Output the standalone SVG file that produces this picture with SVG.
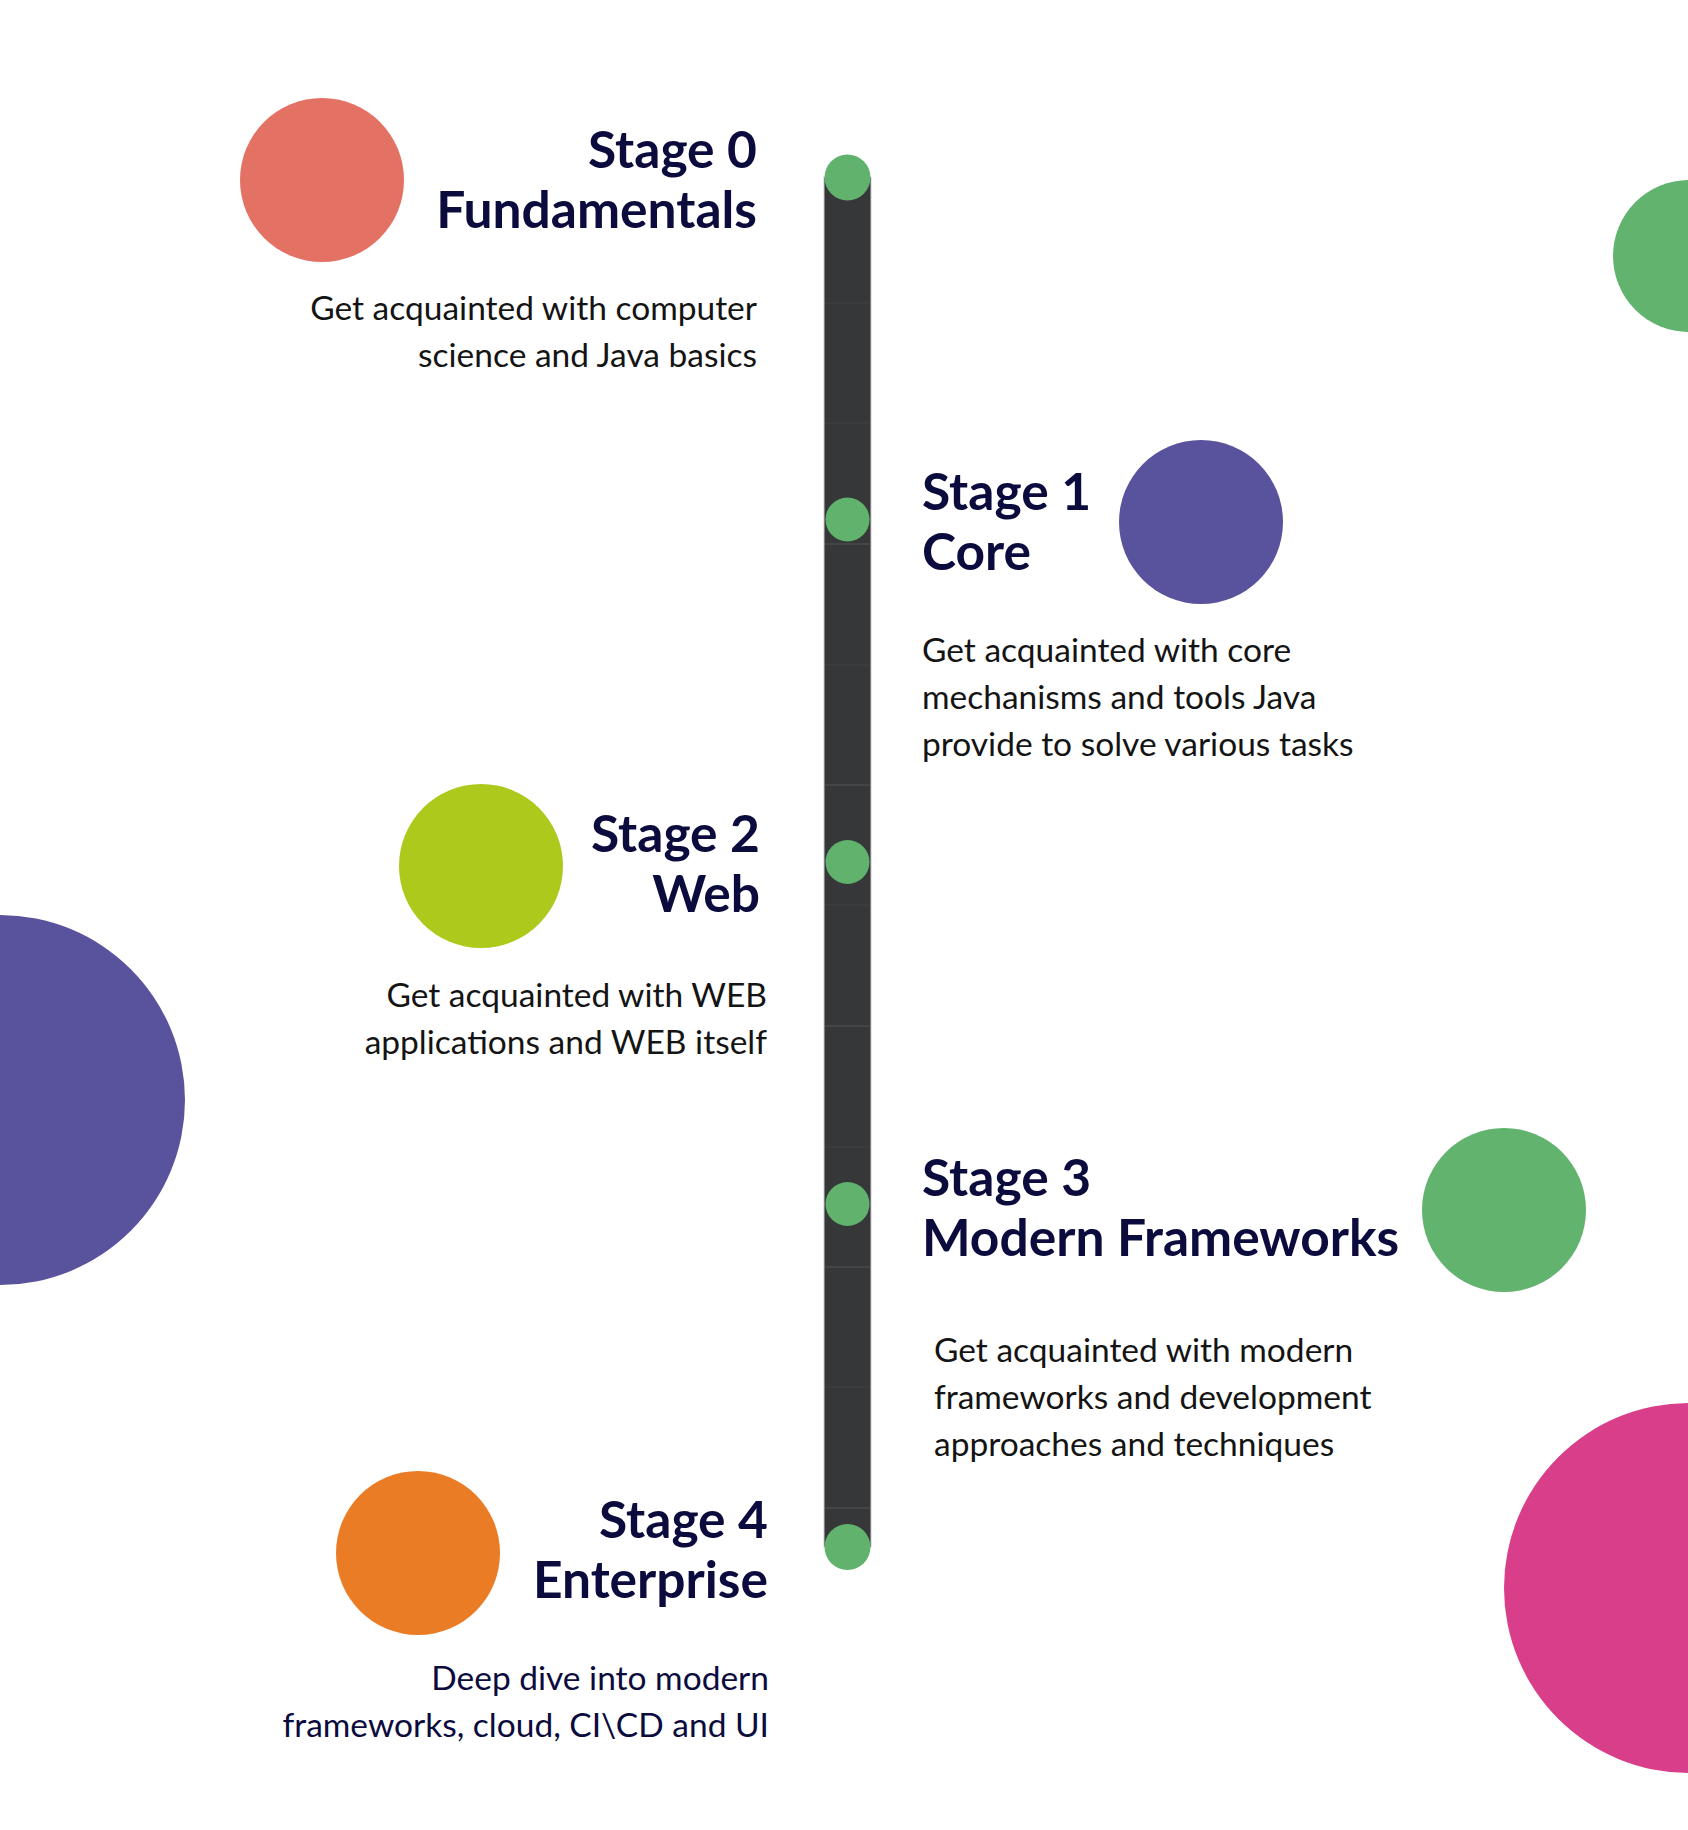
<svg xmlns="http://www.w3.org/2000/svg" width="1688" height="1830" viewBox="0 0 1688 1830">
  <style>
    .title { font-family: Lato, "Liberation Sans", sans-serif; font-weight: 700; font-size: 51.5px; fill: #0b0b3d; }
    .desc { font-family: Lato, "Liberation Sans", sans-serif; font-weight: 400; font-size: 33.5px; fill: #141414; }
    .desc.navy { fill: #0b0b3d; }
    .end { text-anchor: end; }
    .dot { fill: #60b26c; }
    .seam { stroke: #4a4b4e; stroke-width: 1.5; }
    .seam.faint { stroke: #3e3f42; }
  </style>

  <rect width="1688" height="1830" fill="#ffffff"/>

  <!-- decorative background discs -->
  <g id="decor">
    <circle cx="0" cy="1100" r="185" fill="#59529d"/>
    <circle cx="1689" cy="256" r="76" fill="#61b36e"/>
    <circle cx="1689" cy="1588" r="185" fill="#d83e8a"/>
  </g>

  <!-- vertical timeline track with stage markers -->
  <g id="connectors">
    <rect x="824" y="177" width="47" height="1370" fill="#363739" stroke="#c9c9c9" stroke-width="1"/>
    <g class="seam faint">
      <line x1="825" y1="303" x2="870" y2="303"/>
      <line x1="825" y1="423" x2="870" y2="423"/>
      <line x1="825" y1="665" x2="870" y2="665"/>
      <line x1="825" y1="905" x2="870" y2="905"/>
      <line x1="825" y1="1147" x2="870" y2="1147"/>
      <line x1="825" y1="1387" x2="870" y2="1387"/>
    </g>
    <g class="seam">
      <line x1="825" y1="544" x2="870" y2="544"/>
      <line x1="825" y1="785" x2="870" y2="785"/>
      <line x1="825" y1="1026" x2="870" y2="1026"/>
      <line x1="825" y1="1267" x2="870" y2="1267"/>
      <line x1="825" y1="1508" x2="870" y2="1508"/>
    </g>
    <circle class="dot" cx="847.5" cy="177.5" r="23"/>
    <circle class="dot" cx="847.5" cy="519.5" r="22"/>
    <circle class="dot" cx="847.5" cy="862" r="22"/>
    <circle class="dot" cx="847.5" cy="1204" r="22"/>
    <circle class="dot" cx="847.5" cy="1547" r="23"/>
  </g>

  <!-- Stage 0 -->
  <g id="stage0">
    <circle cx="322" cy="180" r="82" fill="#e47264"/>
    <text class="title end" x="757" y="168">Stage 0</text>
    <text class="title end" x="757" y="228">Fundamentals</text>
    <text class="desc end" x="757" y="320">Get acquainted with computer</text>
    <text class="desc end" x="757" y="367">science and Java basics</text>
  </g>

  <!-- Stage 1 -->
  <g id="stage1">
    <circle cx="1201" cy="522" r="82" fill="#59529d"/>
    <text class="title" x="922" y="510">Stage 1</text>
    <text class="title" x="922" y="570">Core</text>
    <text class="desc" x="922" y="662">Get acquainted with core</text>
    <text class="desc" x="922" y="709">mechanisms and tools Java</text>
    <text class="desc" x="922" y="756">provide to solve various tasks</text>
  </g>

  <!-- Stage 2 -->
  <g id="stage2">
    <circle cx="481" cy="866" r="82" fill="#adc91c"/>
    <text class="title end" x="760" y="852">Stage 2</text>
    <text class="title end" x="760" y="912">Web</text>
    <text class="desc end" x="767" y="1007">Get acquainted with WEB</text>
    <text class="desc end" x="767" y="1054">applications and WEB itself</text>
  </g>

  <!-- Stage 3 -->
  <g id="stage3">
    <circle cx="1504" cy="1210" r="82" fill="#61b36e"/>
    <text class="title" x="922" y="1196">Stage 3</text>
    <text class="title" x="922" y="1256">Modern Frameworks</text>
    <text class="desc" x="934" y="1362">Get acquainted with modern</text>
    <text class="desc" x="934" y="1409">frameworks and development</text>
    <text class="desc" x="934" y="1456">approaches and techniques</text>
  </g>

  <!-- Stage 4 -->
  <g id="stage4">
    <circle cx="418" cy="1553" r="82" fill="#eb7c26"/>
    <text class="title end" x="768" y="1538">Stage 4</text>
    <text class="title end" x="768" y="1598">Enterprise</text>
    <text class="desc navy end" x="769" y="1690">Deep dive into modern</text>
    <text class="desc navy end" x="769" y="1737">frameworks, cloud, CI\CD and UI</text>
  </g>
</svg>
